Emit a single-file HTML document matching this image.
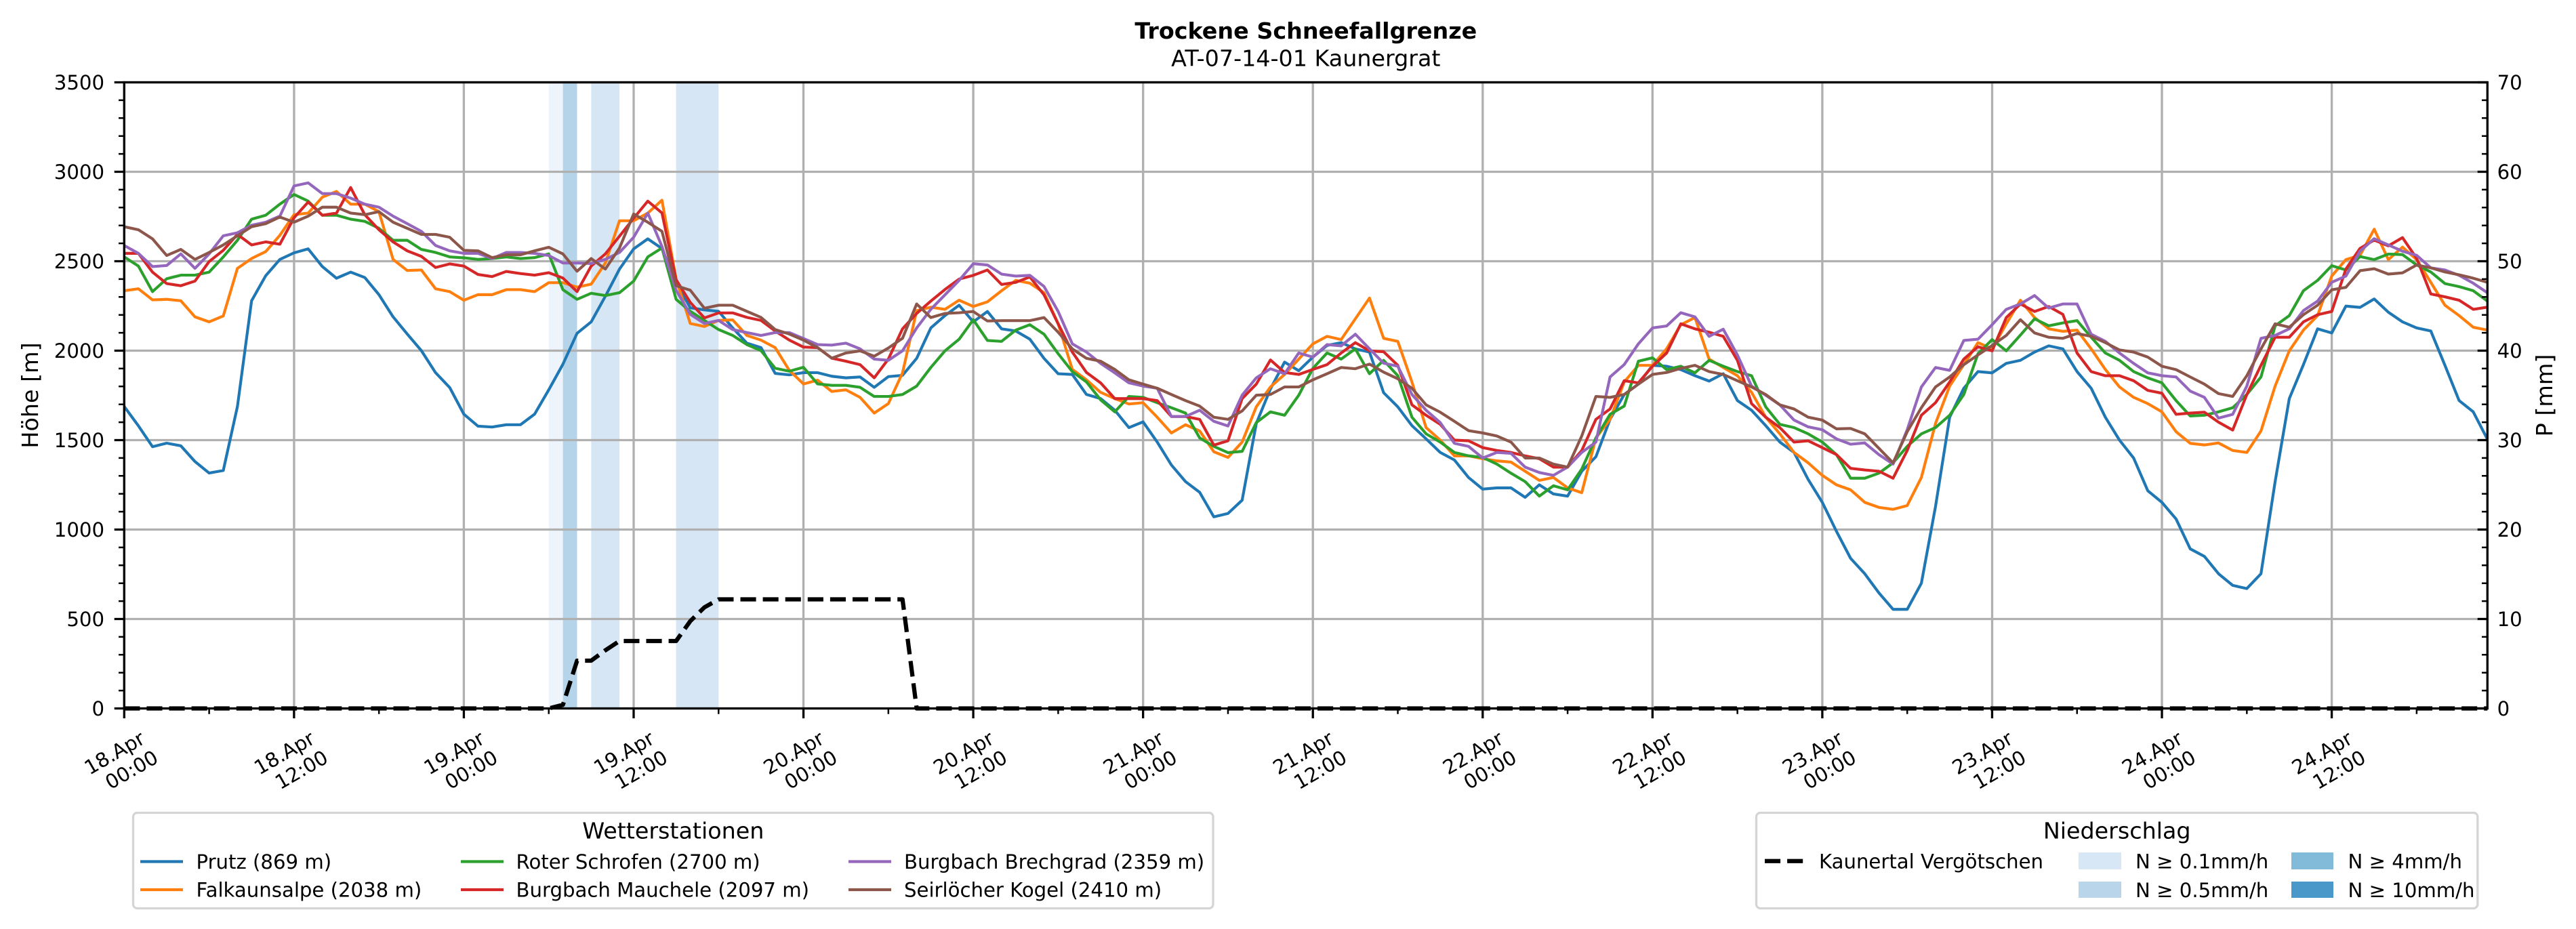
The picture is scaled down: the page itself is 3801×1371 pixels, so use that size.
<!DOCTYPE html>
<html><head><meta charset="utf-8"><style>
html,body{margin:0;padding:0;background:#fff;}
svg{display:block;}
text{font-family:"DejaVu Sans","Liberation Sans",sans-serif;fill:#000;}
.t{font-size:29.17px;}
.d{fill:none;stroke-width:4.17;stroke-linejoin:round;vector-effect:non-scaling-stroke;}
</style></head><body>
<svg width="3801" height="1371" viewBox="0 0 3801 1371" xmlns="http://www.w3.org/2000/svg">
<rect x="0" y="0" width="3801" height="1371" fill="#fff"/>
<!-- precipitation bands -->
<rect x="809.7" y="121.5" width="20.9" height="924" fill="#edf4fb"/>
<rect x="830.6" y="121.5" width="20.9" height="924" fill="#b6d4e9"/>
<rect x="872.3" y="121.5" width="41.8" height="924" fill="#d6e6f4"/>
<rect x="997.6" y="121.5" width="62.7" height="924" fill="#d6e6f4"/>
<!-- grid -->
<g stroke="#b0b0b0" stroke-width="3.33">
<path d="M183.3,121.5V1045.5M433.9,121.5V1045.5M684.4,121.5V1045.5M935,121.5V1045.5M1185.5,121.5V1045.5M1436.1,121.5V1045.5M1686.7,121.5V1045.5M1937.2,121.5V1045.5M2187.8,121.5V1045.5M2438.3,121.5V1045.5M2688.9,121.5V1045.5M2939.5,121.5V1045.5M3190,121.5V1045.5M3440.6,121.5V1045.5"/>
<path d="M183.3,913.5H3670.3M183.3,781.5H3670.3M183.3,649.5H3670.3M183.3,517.5H3670.3M183.3,385.5H3670.3M183.3,253.5H3670.3M183.3,121.5H3670.3"/>
</g>
<!-- data -->
<g transform="translate(183.3,1045.5) scale(20.88,-0.264)">
<polyline class="d" stroke="#1f77b4" points="0,1688 1,1580 2,1463 3,1483 4,1468 5,1380 6,1316 7,1330 8,1688 9,2279 10,2419 11,2510 12,2547 13,2569 14,2470 15,2405 16,2439 17,2409 18,2313 19,2189 20,2093 21,2000 22,1877 23,1794 24,1645 25,1578 26,1573 27,1586 28,1586 29,1645 30,1781 31,1924 32,2097 33,2161 34,2304 35,2456 36,2569 37,2625 38,2571 39,2380 40,2240 41,2228 42,2220 43,2127 44,2042 45,2017 46,1873 47,1865 48,1877 49,1877 50,1857 51,1848 52,1853 53,1795 54,1855 55,1862 56,1957 57,2127 58,2196 59,2254 60,2161 61,2219 62,2122 63,2110 64,2064 65,1957 66,1871 67,1867 68,1755 69,1732 70,1667 71,1570 72,1602 73,1489 74,1361 75,1268 76,1208 77,1071 78,1090 79,1164 80,1593 81,1786 82,1936 83,1888 84,1964 85,2029 86,2045 87,2010 88,1992 89,1765 90,1686 91,1581 92,1507 93,1431 94,1389 95,1291 96,1226 97,1233 98,1233 99,1180 100,1250 101,1199 102,1187 103,1326 104,1407 105,1616 106,1755 107,1813 108,1918 109,1913 110,1894 111,1860 112,1830 113,1871 114,1721 115,1667 116,1581 117,1489 118,1431 119,1280 120,1152 121,990 122,839 123,753 124,646 125,554 126,554 127,700 128,1129 129,1628 130,1790 131,1883 132,1876 133,1929 134,1946 135,1992 136,2027 137,2010 138,1883 139,1790 140,1628 141,1500 142,1400 143,1217 144,1152 145,1059 146,892 147,850 148,753 149,688 150,670 151,753 152,1268 153,1732 154,1922 155,2122 156,2099 157,2249 158,2242 159,2289 160,2215 161,2161 162,2127 163,2110 164,1918 165,1721 166,1658 167,1505"/>
<polyline class="d" stroke="#ff7f0e" points="0,2335 1,2346 2,2284 3,2287 4,2279 5,2189 6,2161 7,2194 8,2460 9,2515 10,2554 11,2645 12,2760 13,2769 14,2858 15,2890 16,2819 17,2819 18,2777 19,2510 20,2448 21,2451 22,2346 23,2330 24,2282 25,2313 26,2313 27,2341 28,2341 29,2330 30,2380 31,2380 32,2355 33,2372 34,2490 35,2726 36,2726 37,2769 38,2841 39,2400 40,2152 41,2135 42,2169 43,2172 44,2085 45,2059 46,2017 47,1890 48,1814 49,1835 50,1772 51,1781 52,1739 53,1651 54,1704 55,1876 56,2224 57,2243 58,2231 59,2282 60,2247 61,2273 62,2335 63,2393 64,2377 65,2324 66,2150 67,1895 68,1837 69,1767 70,1732 71,1702 72,1709 73,1628 74,1540 75,1586 76,1551 77,1435 78,1403 79,1489 80,1686 81,1797 82,1867 83,1953 84,2038 85,2080 86,2062 87,2178 88,2294 89,2069 90,2052 91,1825 92,1570 93,1500 94,1412 95,1412 96,1396 97,1384 98,1377 99,1326 100,1275 101,1291 102,1233 103,1206 104,1512 105,1616 106,1825 107,1918 108,1918 109,2011 110,2145 111,2185 112,1953 113,1906 114,1860 115,1767 116,1628 117,1535 118,1431 119,1373 120,1303 121,1250 122,1222 123,1152 124,1124 125,1113 126,1134 127,1291 128,1593 129,1802 130,1922 131,2045 132,2010 133,2150 134,2282 135,2185 136,2122 137,2108 138,2115 139,2010 140,1895 141,1797 142,1739 143,1704 144,1658 145,1547 146,1482 147,1473 148,1484 149,1442 150,1431 151,1551 152,1802 153,1999 154,2115 155,2196 156,2417 157,2509 158,2533 159,2679 160,2509 161,2579 162,2509 163,2382 164,2254 165,2196 166,2131 167,2115"/>
<polyline class="d" stroke="#2ca02c" points="0,2524 1,2473 2,2330 3,2402 4,2422 5,2422 6,2439 7,2524 8,2617 9,2735 10,2757 11,2819 12,2873 13,2836 14,2757 15,2757 16,2735 17,2723 18,2684 19,2617 20,2617 21,2566 22,2549 23,2524 24,2519 25,2510 26,2515 27,2524 28,2515 29,2520 30,2541 31,2341 32,2287 33,2321 34,2308 35,2324 36,2389 37,2524 38,2574 39,2287 40,2220 41,2169 42,2118 43,2085 44,2034 45,2000 46,1902 47,1885 48,1907 49,1814 50,1806 51,1806 52,1795 53,1744 54,1744 55,1755 56,1802 57,1906 58,1999 59,2064 60,2173 61,2057 62,2052 63,2115 64,2145 65,2092 66,1983 67,1883 68,1825 69,1725 70,1658 71,1744 72,1739 73,1709 74,1681 75,1651 76,1512 77,1465 78,1430 79,1437 80,1598 81,1658 82,1639 83,1751 84,1901 85,1987 86,1953 87,2010 88,1871 89,1946 90,1860 91,1628 92,1535 93,1489 94,1431 95,1412 96,1403 97,1366 98,1315 99,1268 100,1187 101,1245 102,1222 103,1338 104,1512 105,1644 106,1690 107,1941 108,1960 109,1894 110,1913 111,1876 112,1946 113,1913 114,1883 115,1860 116,1686 117,1588 118,1570 119,1535 120,1489 121,1419 122,1287 123,1287 124,1315 125,1373 126,1465 127,1535 128,1570 129,1639 130,1755 131,1983 132,2062 133,1999 134,2087 135,2178 136,2139 137,2155 138,2168 139,2075 140,1987 141,1946 142,1883 143,1848 144,1820 145,1721 146,1635 147,1639 148,1658 149,1681 150,1755 151,1853 152,2139 153,2196 154,2335 155,2393 156,2475 157,2451 158,2526 159,2509 160,2540 161,2537 162,2479 163,2440 164,2375 165,2358 166,2335 167,2277"/>
<polyline class="d" stroke="#d62728" points="0,2544 1,2544 2,2439 3,2375 4,2363 5,2389 6,2498 7,2561 8,2650 9,2591 10,2608 11,2595 12,2743 13,2831 14,2757 15,2769 16,2912 17,2760 18,2676 19,2608 20,2558 21,2527 22,2465 23,2485 24,2473 25,2426 26,2414 27,2443 28,2431 29,2422 30,2436 31,2406 32,2330 33,2473 34,2541 35,2640 36,2740 37,2836 38,2770 39,2397 40,2270 41,2183 42,2211 43,2211 44,2186 45,2169 46,2110 47,2059 48,2020 49,2017 50,1958 51,1941 52,1922 53,1848 54,1953 55,2122 56,2208 57,2277 58,2342 59,2400 60,2421 61,2451 62,2370 63,2382 64,2412 65,2312 66,2150 67,1992 68,1878 69,1820 70,1732 71,1732 72,1732 73,1721 74,1632 75,1632 76,1616 77,1472 78,1496 79,1732 80,1813 81,1948 82,1878 83,1867 84,1895 85,1922 86,1987 87,2045 88,1999 89,1994 90,1918 91,1697 92,1639 93,1588 94,1500 95,1496 96,1458 97,1442 98,1431 99,1412 100,1396 101,1349 102,1349 103,1442 104,1616 105,1674 106,1832 107,1820 108,1913 109,1987 110,2150 111,2122 112,2103 113,2080 114,1946 115,1704 116,1628 117,1570 118,1489 119,1496 120,1458 121,1419 122,1342 123,1333 124,1326 125,1287 126,1442 127,1639 128,1709 129,1825 130,1953 131,2022 132,1999 133,2185 134,2261 135,2219 136,2247 137,2203 138,1987 139,1883 140,1860 141,1860 142,1832 143,1778 144,1762 145,1644 146,1651 147,1656 148,1600 149,1556 150,1755 151,1918 152,2075 153,2075 154,2161 155,2201 156,2219 157,2456 158,2572 159,2618 160,2586 161,2632 162,2516 163,2317 164,2301 165,2282 166,2231 167,2243"/>
<polyline class="d" stroke="#9467bd" points="0,2588 1,2544 2,2470 3,2476 4,2541 5,2460 6,2541 7,2642 8,2659 9,2701 10,2718 11,2752 12,2921 13,2938 14,2878 15,2878 16,2853 17,2819 18,2802 19,2752 20,2710 21,2667 22,2588 23,2558 24,2544 25,2544 26,2515 27,2549 28,2549 29,2544 30,2532 31,2490 32,2490 33,2487 34,2510 35,2549 36,2634 37,2769 38,2583 39,2338 40,2203 41,2152 42,2169 43,2118 44,2101 45,2085 46,2101 47,2101 48,2068 49,2034 50,2031 51,2042 52,2010 53,1953 54,1946 55,1999 56,2127 57,2231 58,2312 59,2393 60,2486 61,2479 62,2428 63,2417 64,2421 65,2359 66,2219 67,2038 68,1992 69,1929 70,1876 71,1820 72,1802 73,1790 74,1632 75,1632 76,1667 77,1605 78,1579 79,1751 80,1848 81,1899 82,1871 83,1987 84,1964 85,2034 86,2027 87,2092 88,2010 89,1930 90,1913 91,1755 92,1667 93,1598 94,1482 95,1465 96,1400 97,1431 98,1426 99,1349 100,1319 101,1303 102,1349 103,1431 104,1489 105,1853 106,1922 107,2038 108,2127 109,2138 110,2212 111,2189 112,2080 113,2120 114,1976 115,1802 116,1751 117,1697 118,1612 119,1574 120,1558 121,1507 122,1477 123,1484 124,1419 125,1366 126,1558 127,1797 128,1906 129,1890 130,2057 131,2064 132,2145 133,2231 134,2261 135,2308 136,2238 137,2261 138,2261 139,2092 140,2052 141,1987 142,1929 143,1876 144,1860 145,1853 146,1774 147,1739 148,1623 149,1644 150,1802 151,2069 152,2085 153,2122 154,2224 155,2277 156,2382 157,2417 158,2556 159,2626 160,2591 161,2556 162,2533 163,2463 164,2451 165,2421 166,2377 167,2324"/>
<polyline class="d" stroke="#8c564b" points="0,2693 1,2676 2,2625 3,2532 4,2566 5,2510 6,2549 7,2591 8,2642 9,2693 10,2710 11,2747 12,2718 13,2752 14,2802 15,2802 16,2769 17,2760 18,2777 19,2718 20,2684 21,2650 22,2650 23,2634 24,2561 25,2558 26,2520 27,2536 28,2536 29,2558 30,2578 31,2541 32,2444 33,2515 34,2456 35,2574 36,2764 37,2718 38,2667 39,2363 40,2338 41,2237 42,2254 43,2254 44,2220 45,2186 46,2118 47,2093 48,2059 49,2017 50,1958 51,1987 52,1999 53,1969 54,2015 55,2069 56,2261 57,2185 58,2208 59,2212 60,2219 61,2166 62,2168 63,2168 64,2168 65,2185 66,2103 67,2010 68,1957 69,1941 70,1895 71,1837 72,1813 73,1790 74,1755 75,1721 76,1690 77,1628 78,1616 79,1663 80,1751 81,1755 82,1797 83,1797 84,1837 85,1871 86,1906 87,1899 88,1925 89,1880 90,1843 91,1790 92,1697 93,1656 94,1605 95,1553 96,1540 97,1523 98,1489 99,1400 100,1400 101,1366 102,1349 103,1523 104,1744 105,1739 106,1755 107,1813 108,1867 109,1878 110,1901 111,1918 112,1883 113,1867 114,1832 115,1797 116,1755 117,1697 118,1674 119,1628 120,1612 121,1563 122,1565 123,1535 124,1454 125,1373 126,1547 127,1681 128,1797 129,1853 130,1922 131,1976 132,2029 133,2085 134,2173 135,2099 136,2075 137,2069 138,2096 139,2080 140,2045 141,2004 142,1992 143,1964 144,1913 145,1894 146,1853 147,1813 148,1760 149,1744 150,1860 151,2010 152,2150 153,2131 154,2201 155,2254 156,2340 157,2354 158,2447 159,2458 160,2428 161,2435 162,2479 163,2463 164,2440 165,2424 166,2405 167,2382"/>
</g>
<!-- precipitation cumulative (dashed) -->
<polyline fill="none" stroke="#000" stroke-width="6.25" stroke-dasharray="23.1 10" stroke-linejoin="round" points="183.3,1045.5 809.7,1045.5 830.6,1040.2 851.5,975 872.3,975 893.2,959.7 914.1,946 997.6,946 1018.5,916.7 1039.4,896.3 1060.3,884.5 1331.7,884.5 1352.6,1045.5 3670.3,1045.5"/>
<!-- spines -->
<rect x="183.3" y="121.5" width="3487" height="924" fill="none" stroke="#000" stroke-width="3.33"/>
<!-- ticks -->
<g stroke="#000" fill="none">
<line x1="176" y1="1047.15" x2="176" y2="119" stroke-width="14.6" stroke-dasharray="3.3 128.7"/>
<line x1="179.15" y1="1046.75" x2="179.15" y2="119" stroke-width="8.3" stroke-dasharray="2.5 23.9"/>
<line x1="3663" y1="1047.15" x2="3663" y2="119" stroke-width="14.6" stroke-dasharray="3.3 128.7"/>
<line x1="3666.15" y1="1046.75" x2="3666.15" y2="119" stroke-width="8.3" stroke-dasharray="2.5 23.9"/>
<line x1="181.65" y1="1052.8" x2="3672" y2="1052.8" stroke-width="14.6" stroke-dasharray="3.3 247.26"/>
<line x1="307.35" y1="1049.65" x2="3672" y2="1049.65" stroke-width="8.3" stroke-dasharray="2.5 248.06"/>
</g>
<!-- left tick labels -->
<g class="t" text-anchor="end">
<text x="154" y="1056.1">0</text>
<text x="154" y="924.1">500</text>
<text x="154" y="792.1">1000</text>
<text x="154" y="660.1">1500</text>
<text x="154" y="528.1">2000</text>
<text x="154" y="396.1">2500</text>
<text x="154" y="264.1">3000</text>
<text x="154" y="132.1">3500</text>
</g>
<!-- right tick labels -->
<g class="t" text-anchor="start">
<text x="3684.6" y="1056.1">0</text>
<text x="3684.6" y="924.1">10</text>
<text x="3684.6" y="792.1">20</text>
<text x="3684.6" y="660.1">30</text>
<text x="3684.6" y="528.1">40</text>
<text x="3684.6" y="396.1">50</text>
<text x="3684.6" y="264.1">60</text>
<text x="3684.6" y="132.1">70</text>
</g>
<!-- x tick labels -->
<g class="t" text-anchor="middle">
<g transform="translate(174,1119.9) rotate(-30)"><text x="0" y="0">18.Apr</text><text x="9.4" y="34.2">00:00</text></g>
<g transform="translate(424.6,1119.9) rotate(-30)"><text x="0" y="0">18.Apr</text><text x="9.4" y="34.2">12:00</text></g>
<g transform="translate(675.1,1119.9) rotate(-30)"><text x="0" y="0">19.Apr</text><text x="9.4" y="34.2">00:00</text></g>
<g transform="translate(925.7,1119.9) rotate(-30)"><text x="0" y="0">19.Apr</text><text x="9.4" y="34.2">12:00</text></g>
<g transform="translate(1176.2,1119.9) rotate(-30)"><text x="0" y="0">20.Apr</text><text x="9.4" y="34.2">00:00</text></g>
<g transform="translate(1426.8,1119.9) rotate(-30)"><text x="0" y="0">20.Apr</text><text x="9.4" y="34.2">12:00</text></g>
<g transform="translate(1677.4,1119.9) rotate(-30)"><text x="0" y="0">21.Apr</text><text x="9.4" y="34.2">00:00</text></g>
<g transform="translate(1927.9,1119.9) rotate(-30)"><text x="0" y="0">21.Apr</text><text x="9.4" y="34.2">12:00</text></g>
<g transform="translate(2178.5,1119.9) rotate(-30)"><text x="0" y="0">22.Apr</text><text x="9.4" y="34.2">00:00</text></g>
<g transform="translate(2429,1119.9) rotate(-30)"><text x="0" y="0">22.Apr</text><text x="9.4" y="34.2">12:00</text></g>
<g transform="translate(2679.6,1119.9) rotate(-30)"><text x="0" y="0">23.Apr</text><text x="9.4" y="34.2">00:00</text></g>
<g transform="translate(2930.2,1119.9) rotate(-30)"><text x="0" y="0">23.Apr</text><text x="9.4" y="34.2">12:00</text></g>
<g transform="translate(3180.7,1119.9) rotate(-30)"><text x="0" y="0">24.Apr</text><text x="9.4" y="34.2">00:00</text></g>
<g transform="translate(3431.3,1119.9) rotate(-30)"><text x="0" y="0">24.Apr</text><text x="9.4" y="34.2">12:00</text></g>
</g>
<!-- axis labels -->
<text transform="translate(56,583.5) rotate(-90)" text-anchor="middle" font-size="33.33">Höhe [m]</text>
<text transform="translate(3766,583.5) rotate(-90)" text-anchor="middle" font-size="33.33">P [mm]</text>
<!-- titles -->
<text x="1926.8" y="57" text-anchor="middle" font-size="33.33" font-weight="bold">Trockene Schneefallgrenze</text>
<text x="1926.8" y="97.5" text-anchor="middle" font-size="33.33">AT-07-14-01 Kaunergrat</text>
<!-- left legend -->
<rect x="196.5" y="1199.5" width="1593.5" height="141" rx="6" ry="6" fill="#fff" stroke="#d5d5d5" stroke-width="3.3"/>
<text x="993.3" y="1237.6" text-anchor="middle" font-size="33.33">Wetterstationen</text>
<g stroke-width="4.17">
<line x1="207" y1="1271.5" x2="270" y2="1271.5" stroke="#1f77b4"/>
<line x1="207" y1="1313" x2="270" y2="1313" stroke="#ff7f0e"/>
<line x1="680" y1="1271.5" x2="743" y2="1271.5" stroke="#2ca02c"/>
<line x1="680" y1="1313" x2="743" y2="1313" stroke="#d62728"/>
<line x1="1252" y1="1271.5" x2="1315" y2="1271.5" stroke="#9467bd"/>
<line x1="1252" y1="1313" x2="1315" y2="1313" stroke="#8c564b"/>
</g>
<g class="t">
<text x="289.5" y="1282">Prutz (869 m)</text>
<text x="289.5" y="1323.6">Falkaunsalpe (2038 m)</text>
<text x="761.5" y="1282">Roter Schrofen (2700 m)</text>
<text x="761.5" y="1323.6">Burgbach Mauchele (2097 m)</text>
<text x="1334" y="1282">Burgbach Brechgrad (2359 m)</text>
<text x="1334" y="1323.6">Seirlöcher Kogel (2410 m)</text>
</g>
<!-- right legend -->
<rect x="2591.5" y="1199.5" width="1064.3" height="141" rx="6" ry="6" fill="#fff" stroke="#d5d5d5" stroke-width="3.3"/>
<text x="3123.7" y="1237.3" text-anchor="middle" font-size="33.33">Niederschlag</text>
<line x1="2604" y1="1270.7" x2="2662" y2="1270.7" stroke="#000" stroke-width="6.25" stroke-dasharray="23.1 10"/>
<rect x="3067" y="1258" width="63" height="25" fill="#d7e7f5"/>
<rect x="3067" y="1301" width="63" height="24" fill="#b8d5ea"/>
<rect x="3381" y="1258" width="62" height="25" fill="#82bada"/>
<rect x="3381" y="1301" width="62" height="24" fill="#4a97c9"/>
<g class="t">
<text x="2684" y="1281.5">Kaunertal Vergötschen</text>
<text x="3151" y="1281.5">N ≥ 0.1mm/h</text>
<text x="3151" y="1324">N ≥ 0.5mm/h</text>
<text x="3464.5" y="1281.5">N ≥ 4mm/h</text>
<text x="3464.5" y="1324">N ≥ 10mm/h</text>
</g>
</svg>
</body></html>
